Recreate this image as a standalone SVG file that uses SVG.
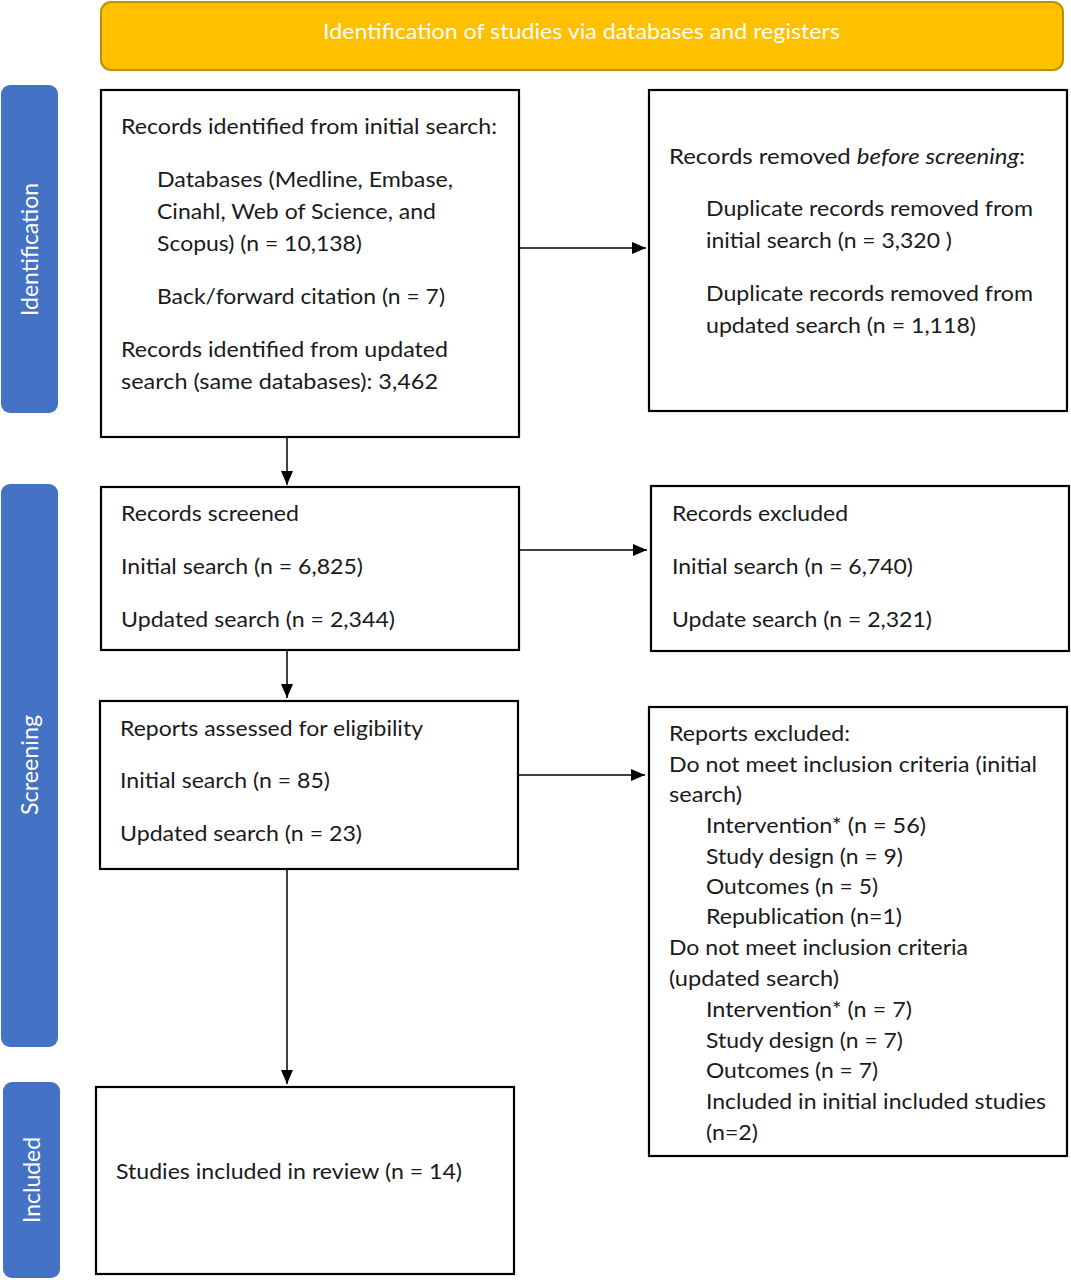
<svg xmlns="http://www.w3.org/2000/svg" width="1071" height="1280" viewBox="0 0 1071 1280">
<style>
.box{fill:#fff;stroke:#000;stroke-width:2.2}
.side{fill:#4472C4}
.t{font-family:Lato,"Open Sans","Liberation Sans",sans-serif;font-size:21px;fill:#1a1a1a}
.w{font-family:Lato,"Open Sans","Liberation Sans",sans-serif;font-size:21px;fill:#fff}
.s{font-family:Lato,"Open Sans","Liberation Sans",sans-serif;font-size:23px;fill:#fff}
.c{stroke:#000;stroke-width:1.5;fill:none}
</style>
<defs>
<marker id="ah" markerWidth="14" markerHeight="12" refX="14" refY="6" orient="auto" markerUnits="userSpaceOnUse">
<path d="M0,0 L14,6 L0,12 Z" fill="#000"/>
</marker>
</defs>
<rect width="1071" height="1280" fill="#fff"/>

<g id="header">
<rect x="101" y="2" width="962" height="68" rx="10" fill="#FFC000" stroke="#BF9000" stroke-width="2"/>
<text class="w" x="323" y="39" textLength="517" lengthAdjust="spacingAndGlyphs">Identification of studies via databases and registers</text>
</g>

<g id="side-identification">
<rect class="side" x="1" y="85" width="57" height="328" rx="9"/>
<text class="s" transform="translate(38,316) rotate(-90)" textLength="133" lengthAdjust="spacingAndGlyphs">Identification</text>
</g>
<g id="side-screening">
<rect class="side" x="1" y="484" width="57" height="563" rx="9"/>
<text class="s" transform="translate(38,815) rotate(-90)" textLength="100" lengthAdjust="spacingAndGlyphs">Screening</text>
</g>
<g id="side-included">
<rect class="side" x="3" y="1082" width="57" height="196" rx="9"/>
<text class="s" transform="translate(40,1223) rotate(-90)" textLength="86" lengthAdjust="spacingAndGlyphs">Included</text>
</g>

<g id="connectors">
<line class="c" x1="520" y1="248" x2="646" y2="248" marker-end="url(#ah)"/>
<line class="c" x1="287" y1="438" x2="287" y2="485" marker-end="url(#ah)"/>
<line class="c" x1="520" y1="550" x2="647" y2="550" marker-end="url(#ah)"/>
<line class="c" x1="287" y1="651" x2="287" y2="698" marker-end="url(#ah)"/>
<line class="c" x1="519" y1="775" x2="645" y2="775" marker-end="url(#ah)"/>
<line class="c" x1="287" y1="870" x2="287" y2="1084" marker-end="url(#ah)"/>
</g>

<g id="records-identified">
<rect class="box" x="101" y="90" width="418" height="347"/>
<text class="t" x="121" y="134" textLength="376" lengthAdjust="spacingAndGlyphs">Records identified from initial search:</text>
<text class="t" x="157" y="187" textLength="296" lengthAdjust="spacingAndGlyphs">Databases (Medline, Embase,</text>
<text class="t" x="157" y="219" textLength="279" lengthAdjust="spacingAndGlyphs">Cinahl, Web of Science, and</text>
<text class="t" x="157" y="251" textLength="205" lengthAdjust="spacingAndGlyphs">Scopus) (n = 10,138)</text>
<text class="t" x="157" y="304" textLength="288" lengthAdjust="spacingAndGlyphs">Back/forward citation (n = 7)</text>
<text class="t" x="121" y="357" textLength="327" lengthAdjust="spacingAndGlyphs">Records identified from updated</text>
<text class="t" x="121" y="389" textLength="317" lengthAdjust="spacingAndGlyphs">search (same databases): 3,462</text>
</g>

<g id="records-removed">
<rect class="box" x="649" y="90" width="418" height="321"/>
<text class="t" x="669" y="164" textLength="356" lengthAdjust="spacingAndGlyphs">Records removed <tspan font-style="italic">before screening</tspan>:</text>
<text class="t" x="706" y="216" textLength="327" lengthAdjust="spacingAndGlyphs">Duplicate records removed from</text>
<text class="t" x="706" y="248" textLength="246" lengthAdjust="spacingAndGlyphs">initial search (n = 3,320 )</text>
<text class="t" x="706" y="301" textLength="327" lengthAdjust="spacingAndGlyphs">Duplicate records removed from</text>
<text class="t" x="706" y="333" textLength="270" lengthAdjust="spacingAndGlyphs">updated search (n = 1,118)</text>
</g>

<g id="records-screened">
<rect class="box" x="101" y="487" width="418" height="163"/>
<text class="t" x="121" y="521" textLength="178" lengthAdjust="spacingAndGlyphs">Records screened</text>
<text class="t" x="121" y="574" textLength="242" lengthAdjust="spacingAndGlyphs">Initial search (n = 6,825)</text>
<text class="t" x="121" y="627" textLength="274" lengthAdjust="spacingAndGlyphs">Updated search (n = 2,344)</text>
</g>

<g id="records-excluded">
<rect class="box" x="651" y="486" width="418" height="165"/>
<text class="t" x="672" y="521" textLength="176" lengthAdjust="spacingAndGlyphs">Records excluded</text>
<text class="t" x="672" y="574" textLength="241" lengthAdjust="spacingAndGlyphs">Initial search (n = 6,740)</text>
<text class="t" x="672" y="627" textLength="260" lengthAdjust="spacingAndGlyphs">Update search (n = 2,321)</text>
</g>

<g id="reports-assessed">
<rect class="box" x="100" y="701" width="418" height="168"/>
<text class="t" x="120" y="736" textLength="303" lengthAdjust="spacingAndGlyphs">Reports assessed for eligibility</text>
<text class="t" x="120" y="788" textLength="210" lengthAdjust="spacingAndGlyphs">Initial search (n = 85)</text>
<text class="t" x="120" y="841" textLength="242" lengthAdjust="spacingAndGlyphs">Updated search (n = 23)</text>
</g>

<g id="reports-excluded">
<rect class="box" x="649" y="707" width="418" height="449"/>
<text class="t" x="669" y="741" textLength="181" lengthAdjust="spacingAndGlyphs">Reports excluded:</text>
<text class="t" x="669" y="772" textLength="368" lengthAdjust="spacingAndGlyphs">Do not meet inclusion criteria (initial</text>
<text class="t" x="669" y="802" textLength="73" lengthAdjust="spacingAndGlyphs">search)</text>
<text class="t" x="706" y="833" textLength="220" lengthAdjust="spacingAndGlyphs">Intervention* (n = 56)</text>
<text class="t" x="706" y="864" textLength="197" lengthAdjust="spacingAndGlyphs">Study design (n = 9)</text>
<text class="t" x="706" y="894" textLength="172" lengthAdjust="spacingAndGlyphs">Outcomes (n = 5)</text>
<text class="t" x="706" y="924" textLength="196" lengthAdjust="spacingAndGlyphs">Republication (n=1)</text>
<text class="t" x="669" y="955" textLength="299" lengthAdjust="spacingAndGlyphs">Do not meet inclusion criteria</text>
<text class="t" x="669" y="986" textLength="170" lengthAdjust="spacingAndGlyphs">(updated search)</text>
<text class="t" x="706" y="1017" textLength="206" lengthAdjust="spacingAndGlyphs">Intervention* (n = 7)</text>
<text class="t" x="706" y="1048" textLength="197" lengthAdjust="spacingAndGlyphs">Study design (n = 7)</text>
<text class="t" x="706" y="1078" textLength="172" lengthAdjust="spacingAndGlyphs">Outcomes (n = 7)</text>
<text class="t" x="706" y="1109" textLength="340" lengthAdjust="spacingAndGlyphs">Included in initial included studies</text>
<text class="t" x="706" y="1140" textLength="52" lengthAdjust="spacingAndGlyphs">(n=2)</text>
</g>

<g id="studies-included">
<rect class="box" x="96" y="1087" width="418" height="187"/>
<text class="t" x="116" y="1179" textLength="346" lengthAdjust="spacingAndGlyphs">Studies included in review (n = 14)</text>
</g>
</svg>
